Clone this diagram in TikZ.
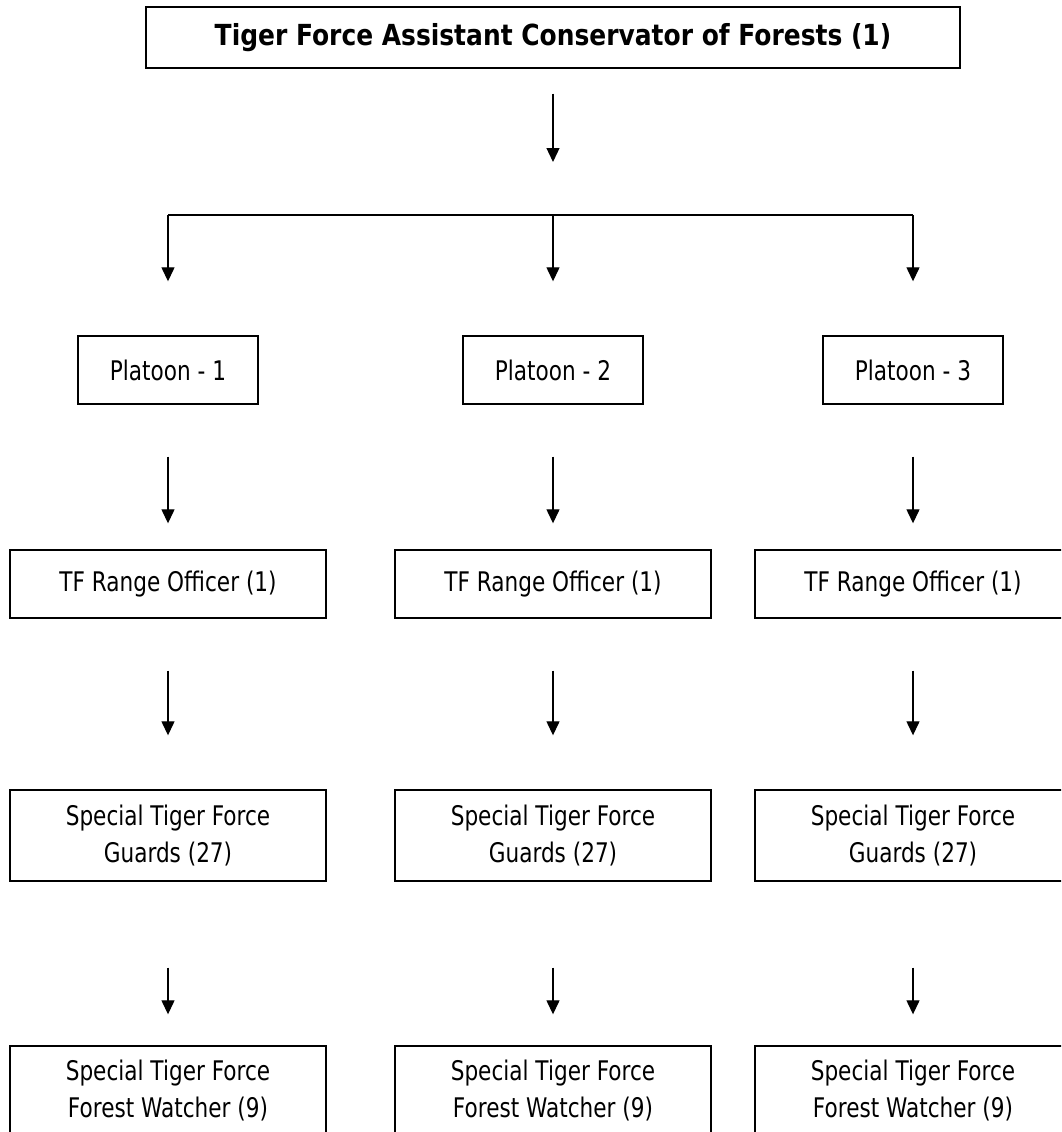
\documentclass[tikz,border=0pt]{standalone}
\usepackage{fontspec}
\setmainfont{DejaVu Sans}[FakeStretch=0.8]
\newfontfamily\headfont{DejaVu Sans}[FakeStretch=0.86]
\usetikzlibrary{arrows.meta}

\tikzset{
  post/.style={draw, line width=1.4pt, inner sep=0pt, align=center,
    font=\fontsize{27}{37}\selectfont},
  link/.style={-{Triangle[length=14pt,width=13pt]}, line width=1.3pt},
}

\begin{document}
\begin{tikzpicture}[x=1pt, y=-1pt]
  % Page
  \useasboundingbox (0,0) rectangle (1061,1132);
  \clip (0,0) rectangle (1061,1132);

  % Head
  \node[post, minimum width=814pt, minimum height=61pt,
    font=\headfont\fontsize{29}{32}\selectfont\bfseries] (acf) at (553,37.5)
    {Tiger Force Assistant Conservator of Forests (1)};
  \coordinate (fork) at (553,215);
  \draw[link, shorten <=25pt, shorten >=53pt] (acf.south) -- (fork);

  % Columns
  \foreach \i/\x in {1/168,2/553,3/913} {
    \node[post, minimum width=180pt, minimum height=68pt] (plt\i) at (\x,370)
      {Platoon - \i};
    \node[post, minimum width=316pt, minimum height=68pt] (rng\i) at (\x,584)
      {TF Range Officer (1)};
    \node[post, minimum width=316pt, minimum height=91pt] (grd\i) at (\x,835.5)
      {Special Tiger Force\\Guards (27)};
    \node[post, minimum width=316pt, minimum height=89pt] (wch\i) at (\x,1090.5)
      {Special Tiger Force\\Forest Watcher (9)};
  }

  % Fork
  \draw[line width=1.3pt] (fork -| plt1) -- (fork -| plt3);
  \foreach \i in {1,2,3} {
    \draw[link, shorten >=54pt] (fork -| plt\i) -- (plt\i.north);
    \draw[link, shorten <=52pt, shorten >=26pt] (plt\i.south) -- (rng\i.north);
    \draw[link, shorten <=52pt, shorten >=54pt] (rng\i.south) -- (grd\i.north);
    \draw[link, shorten <=86pt, shorten >=31pt] (grd\i.south) -- (wch\i.north);
  }
\end{tikzpicture}
\end{document}
